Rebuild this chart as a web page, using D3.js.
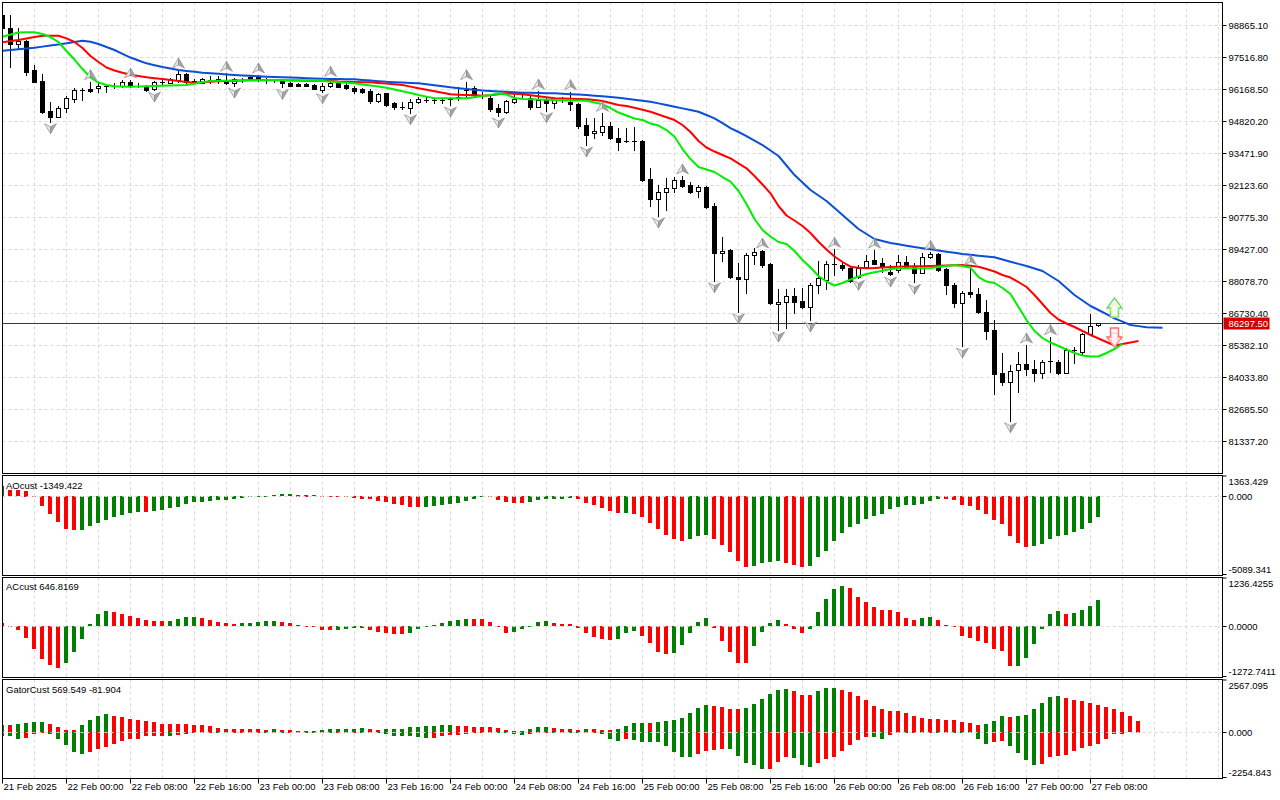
<!DOCTYPE html>
<html>
<head>
<meta charset="utf-8">
<script src="https://cdn.jsdelivr.net/npm/d3@7"></script>
<style>
  body { margin: 0; background: #fff; }
  svg text { font-family: "Liberation Sans", Arial, sans-serif; font-size: 9.5px; fill: #000; }
</style>
</head>
<body>
<svg id="chart" width="1280" height="800"></svg>
<script>
// ---- data (H1 bars, 21 Feb 16:00 .. 27 Feb 09:00) ----
var timeLabels = ["21 Feb 2025", "22 Feb 00:00", "22 Feb 08:00", "22 Feb 16:00", "23 Feb 00:00",
  "23 Feb 08:00", "23 Feb 16:00", "24 Feb 00:00", "24 Feb 08:00", "24 Feb 16:00", "25 Feb 00:00",
  "25 Feb 08:00", "25 Feb 16:00", "26 Feb 00:00", "26 Feb 08:00", "26 Feb 16:00", "27 Feb 00:00", "27 Feb 08:00"]
var barsPerLabel = 8

var priceTicks = [98865.10, 97516.80, 96168.50, 94820.20, 93471.90, 92123.60, 90775.30,
  89427.00, 88078.70, 86730.40, 85382.10, 84033.80, 82685.50, 81337.20]
var lastPrice = 86297.50

var open = [99285,98737,98051,98202,96968,96504,95241,95000,95354,95746, 96125,96167,96197,96290,96300,96306,96475,96306,96239,96155,
  96475,96433,96547,96799,96504,96433,96547,96589,96547,96408, 96547,96660,96686,96547,96550,96517,96433,96378,96378,96336,
  96125,96294,96408,96336,96222,96155,96083,95674,95986,95565, 95422,95354,95607,95700,95704,95700,95733,95830,96125,96197,
  95915,95801,95354,95211,95632,95986,95776,95422,95704,95565, 95776,95632,95535,94651,94301,94368,94609,94090,93989,93970,
  93977,92376,91520,91815,91984,92334,92123,91870,92051,91238, 89245,89384,88234,88150,89174,89342,88795,87109,87181,87447,
  87248,86996,87910,88121,88780,88753,88613,88260,88656,88963, 88849,88470,88542,88891,88681,88428,89102,89216,88571,87910,
  87139,87627,87531,86760,86014,84190,83811,84329,84569,84358, 84190,84679,84679,84215,85150,85100,85846,86212]
var high = [99330,99285,98737,98232,97179,96799,95632,95451,95872,96197, 96197,96475,96475,96336,96408,96547,96547,96408,96336,96504,
  96547,96643,96968,96829,96589,96631,96715,96728,96829,96618, 96618,96715,96757,96618,96589,96547,96462,96408,96408,96378,
  96408,96618,96475,96408,96294,96222,96155,96012,96012,95632, 95632,95733,95843,95843,95776,95776,95843,96264,96475,96294,
  96054,95872,95535,95704,95986,96054,95872,96083,95843,95776, 95843,96054,95590,94933,94933,95144,94790,94512,94512,94579,
  94019,92826,92123,92405,92447,92502,92262,92123,92080,91352, 89945,89414,88849,89271,89456,89384,88849,87729,87741,87796,
  87770,87981,88934,88921,89414,88824,88681,88753,89174,89384, 89035,88753,89174,89144,88824,89245,89287,89245,88613,88007,
  87670,88681,87770,87278,86435,85058,84540,85087,85382,84750, 84750,85732,84750,85243,85310,85875,86675,86310]
var low = [98700,97094,97895,96757,96460,95156,94790,94975,95186,95607, 95704,96054,96028,96054,96197,96264,96264,96239,96096,96125,
  96336,96408,96475,96408,96408,96408,96408,96408,96378,96294, 96475,96547,96517,96408,96475,96239,96294,96294,96280,96150,
  96054,96264,96239,96155,96012,96012,95590,95607,95451,95325, 95325,95169,95565,95632,95590,95565,95493,95704,95776,95843,
  95776,95253,95030,95169,95565,95843,95312,95410,95253,95354, 95632,95283,94512,93808,94090,94229,94048,93597,93940,93597,
  92304,91238,90817,91070,91841,92051,91773,91630,91167,88091, 88934,88192,86785,87560,88795,88681,87109,86014,86086,86743,
  86928,86435,87560,87729,88331,88542,88049,88192,88613,88780, 88470,88331,88470,88613,88024,88403,89035,88512,87531,86996,
  85340,87392,86717,85622,83318,83697,82193,83415,84118,83878, 83979,84257,84160,84190,84611,84961,85803,86180]
var close = [98737,98051,98202,96896,96475,95211,95000,95354,95776,96125, 96140,96096,96294,96300,96290,96475,96306,96300,96125,96475,
  96408,96576,96799,96475,96490,96576,96550,96547,96433,96576, 96560,96589,96547,96540,96547,96408,96306,96306,96306,96155,
  96294,96433,96264,96197,96096,96054,95662,95957,95493,95396, 95354,95632,95733,95704,95700,95704,95740,95843,96140,95915,
  95910,95312,95211,95662,95733,95990,95422,95704,95590,95704, 95770,95523,94609,94229,94398,94609,94090,93922,93947,93977,
  92334,91520,91841,91984,92334,92093,91841,92026,91209,89245, 89330,88234,88150,89174,89313,88753,87139,87206,87447,87206,
  86996,87910,88192,88795,88795,88613,88091,88613,88934,88795, 88681,88373,88866,88681,88403,89077,89216,88542,87910,87139,
  87585,87531,86760,85985,84160,83811,84299,84569,84358,84190, 84679,84690,84215,85171,85160,85846,86183,86297.5]

// Alligator (already shifted forward: jaw 8, teeth 5, lips 3 bars)
var jaw = [97781,97813,97844,97876,97907,97954,98000,98047,98093,98148, 98202,98160,98063,97937,97811,97652,97494,97372,97250,97172,
  97094,97031,96968,96930,96892,96854,96830,96806,96781,96757, 96739,96722,96704,96686,96674,96662,96650,96638,96625,96613,
  96601,96589,96585,96580,96576,96551,96526,96500,96475,96458, 96442,96425,96408,96366,96324,96281,96239,96205,96172,96138,
  96104,96086,96067,96049,96030,96012,96006,95999,95993,95986, 95968,95951,95933,95915,95887,95858,95830,95801,95759,95717,
  95674,95632,95563,95493,95423,95352,95282,95211,95072,94933, 94729,94524,94356,94187,93998,93808,93577,93345,92945,92544,
  92228,91912,91681,91449,91154,90859,90564,90269,90059,89848, 89764,89679,89623,89567,89511,89463,89414,89365,89315,89266,
  89216,89181,89147,89112,89077,88984,88891,88801,88710,88605, 88500,88290,88079,87784,87489,87257,87025,86857,86682,86507,
  86366,86225,86177,86128,86120,86111]
var teeth = [98135,98190,98232,98295,98358,98413,98413,98413,98303,98148, 97895,97558,97305,97073,96947,96850,96770,96715,96660,96622,
  96589,96547,96504,96467,96433,96450,96471,96492,96504,96513, 96526,96534,96542,96547,96542,96534,96530,96526,96521,96513,
  96504,96504,96483,96471,96462,96454,96450,96420,96395,96365, 96336,96269,96197,96134,96071,96007,95944,95931,95915,95902,
  95889,95906,95944,95986,95965,95944,95902,95860,95818,95776, 95767,95755,95746,95733,95704,95662,95578,95493,95451,95380,
  95295,95211,95093,94979,94861,94651,94356,93977,93703,93534, 93387,93248,93037,92826,92502,92144,91773,91238,90838,90627,
  90396,90101,89734,89406,89111,88879,88681,88639,88618,88626, 88643,88664,88681,88689,88698,88702,88710,88719,88727,88740,
  88753,88719,88681,88584,88479,88331,88226,88036,87826,87489, 87109,86730,86456,86288,86140,85972,85803,85656,85509,85353,
  85424,85487,85551]
var lips = [98371,98464,98548,98556,98556,98485,98358,98148,97768,97410, 97010,96652,96441,96336,96285,96273,96264,96273,96281,96294,
  96302,96315,96323,96336,96391,96450,96504,96513,96521,96526, 96534,96538,96542,96547,96547,96542,96538,96534,96526,96517,
  96504,96483,96454,96429,96408,96361,96315,96269,96222,96151, 96075,95999,95915,95847,95780,95776,95776,95776,95776,95822,
  95873,95915,95978,95936,95788,95746,95733,95725,95712,95704, 95696,95687,95679,95674,95599,95523,95367,95177,95051,94925,
  94861,94714,94630,94440,94158,93640,93218,92881,92776,92671, 92460,92262,91870,91322,90691,90227,89953,89722,89637,89342,
  88963,88647,88289,88057,87889,87994,88142,88268,88373,88445, 88508,88584,88614,88614,88614,88614,88626,88668,88710,88753,
  88710,88639,88247,88057,87994,87784,87531,86983,86435,85972, 85677,85487,85340,85193,85045,84940,84898,84898,85045,85214,
  85424]

var fractalUp = [11, 16, 22, 28, 32, 41, 58, 67, 71, 75, 85, 95, 104, 109, 116, 121, 128, 131]
var fractalDown = [6, 19, 29, 35, 40, 51, 56, 62, 68, 73, 82, 89, 92, 97, 101, 107, 111, 114, 120, 126]
var signalArrows = [{ bar: 139, price: 86562, dir: "up" }, { bar: 139, price: 85298, dir: "down" }]

var aoValues = [700,420,400,380,10,-637,-1165,-1692,-2129,-2239, -2225,-1953,-1734,-1580,-1361,-1251,-1097,-1032,-1075,-988,
  -922,-812,-702,-549,-417,-373,-307,-290,-263,-219, -154,-90,-30,5,65,131,140,125,105,65,
  20,5,-20,-90,-100,-175,-220,-307,-417,-549, -615,-702,-715,-700,-637,-593,-527,-439,-307,-220,
  -44,-88,-263,-395,-439,-450,-373,-263,-176,-170, -165,-160,-219,-439,-593,-768,-966,-1097,-1090,-1185,
  -1361,-1756,-2173,-2568,-2832,-2963,-2832,-2612,-2568,-2832, -3226,-3621,-4214,-4610,-4543,-4389,-4324,-4258,-4368,-4478,
  -4610,-4543,-3995,-3556,-2941,-2414,-2019,-1844,-1514,-1295, -1185,-878,-702,-593,-570,-527,-307,-176,-186,-263,
  -593,-659,-922,-1185,-1580,-1844,-2612,-3073,-3292,-3280, -3160,-2832,-2612,-2546,-2371,-2129,-1756,-1349.422]
var acValues = [85,-15,-101,-296,-583,-837,-989,-1056,-930,-651, -330,51,304,380,346,304,253,194,152,127,
  125,130,177,228,232,211,152,93,68,51, 76,80,101,127,130,101,68,17,-10,-25,
  -101,-105,-95,-68,-59,-42,-101,-144,-169,-194, -198,-169,-85,-25,17,68,127,152,177,175,
  173,101,-25,-169,-144,-85,8,101,127,68, 51,48,-42,-186,-270,-321,-346,-321,-169,-118,
  -245,-439,-651,-718,-693,-473,-169,101,203,-59, -372,-651,-921,-930,-499,-144,76,152,51,-85,
  -169,-68,355,684,938,1014,963,735,608,482, 406,400,363,203,152,203,228,152,25,-30,
  -245,-296,-380,-422,-583,-634,-1005,-1000,-803,-448, -68,304,380,304,330,406,507,646.8169]
var gatorUpper = [375,365,422,425,487,490,422,260,130,97, 375,617,812,909,812,747,666,617,536,503,
  422,420,418,415,373,341,325,211,178,175, 172,170,162,130,135,128,97,65,63,50,
  130,132,135,137,140,195,162,130,135,137, 178,243,245,292,325,373,375,325,322,276,
  274,260,211,114,81,79,178,243,276,195, 162,160,114,162,160,114,112,162,309,455,
  460,450,503,552,601,698,942,1185,1332,1283, 1234,1137,1135,1185,1380,1624,1868,2062,2111,2014,
  1819,1815,2014,2160,2165,2062,1965,1770,1575,1283, 1137,1039,1035,942,796,698,650,648,601,599,
  503,455,357,406,552,796,747,800,845,1137, 1429,1721,1770,1673,1575,1527,1429,1332,1234,1137,
  991,796,569.549]
var gatorLower = [-195,-200,-340,-307,-113,-20,-113,-325,-649,-990, -1088,-990,-812,-715,-601,-439,-357,-330,-211,-205,
  -195,-200,-162,-113,-65,-30,-20,-40,-60,-50, -40,-30,-25,-40,-30,-50,-40,-20,-40,-60,
  -45,-60,-45,-60,-40,-60,-40,-60,-110,-190, -200,-210,-250,-290,-285,-200,-150,-145,-100,-60,
  -40,-30,-50,-65,-110,-140,-110,-60,-30,-35, -25,-30,-65,-20,-15,-114,-357,-455,-357,-406,
  -503,-505,-510,-698,-990,-1234,-1240,-1088,-942,-893, -844,-850,-1185,-1526,-1624,-1819,-1815,-1478,-1234,-1283,
  -1624,-1721,-1526,-1332,-1234,-942,-650,-406,-260,-262, -325,-162,-30,-35,-15,-65,-20,-62,-15,-60,
  -62,-65,-325,-601,-503,-455,-698,-1039,-1380,-1624, -1575,-1234,-1185,-1137,-942,-796,-698,-601,-357,-120,
  -81.904]

var aoTicks = [1363.429, 0, -5089.341], aoTickText = ["1363.429", "0.000", "-5089.341"]
var acTicks = [1236.4255, 0, -1272.7411], acTickText = ["1236.4255", "0.0000", "-1272.7411"]
var gatorTicks = [2567.095, 0, -2254.843], gatorTickText = ["2567.095", "0.000", "-2254.843"]

// ---- layout ----
var plotLeft = 2.5, plotRight = 1222.5
var panels = {
  main:  { top: 2.5,   bottom: 473.5 },
  ao:    { top: 475.5, bottom: 575.5 },
  ac:    { top: 577.5, bottom: 677.5 },
  gator: { top: 679.5, bottom: 778.5 }
}
var GREEN = "#008000", RED = "#ff0000", GRID = "#d9d9d9"

var svg = d3.select("#chart")

// scales
var x = d3.scaleLinear().domain([0, 152.5]).range([2, 1222])
var yMain = d3.scaleLinear().domain([81337.20, 98865.10]).range([441, 25])
var yAO = d3.scaleLinear().domain([-5089.341, 1363.429]).range([574.5, 475.5])
var yAC = d3.scaleLinear().domain([-1272.7411, 1236.4255]).range([676.5, 577])
var yGator = d3.scaleLinear().domain([-2254.843, 2567.095]).range([778.5, 679.5])

function px(k) { return Math.round(x(k)) }

// clip paths per panel
var defs = svg.append("defs")
Object.keys(panels).forEach(function (name) {
  var p = panels[name]
  defs.append("clipPath").attr("id", "clip-" + name)
    .append("rect").attr("x", plotLeft + 0.5).attr("y", p.top + 0.5)
    .attr("width", plotRight - plotLeft - 1).attr("height", p.bottom - p.top - 1)
})

function panelGroup(name) {
  return svg.append("g").attr("clip-path", "url(#clip-" + name + ")")
}

// vertical grid in every panel (every 4 bars)
var gridBars = d3.range(4, 153, 4)
Object.keys(panels).forEach(function (name) {
  var p = panels[name]
  panelGroup(name).selectAll("line").data(gridBars).enter().append("line")
    .attr("x1", function (k) { return px(k) + 0.5 }).attr("x2", function (k) { return px(k) + 0.5 })
    .attr("y1", p.top).attr("y2", p.bottom)
    .attr("stroke", GRID).attr("stroke-dasharray", "3,3")
})

// ---------------- main panel ----------------
var gMain = panelGroup("main")

gMain.selectAll("line.hgrid").data(priceTicks).enter().append("line")
  .attr("class", "hgrid")
  .attr("x1", plotLeft).attr("x2", plotRight)
  .attr("y1", function (d) { return Math.round(yMain(d)) + 0.5 })
  .attr("y2", function (d) { return Math.round(yMain(d)) + 0.5 })
  .attr("stroke", GRID).attr("stroke-dasharray", "3,3")

// last price line
gMain.append("line")
  .attr("x1", plotLeft).attr("x2", plotRight)
  .attr("y1", Math.round(yMain(lastPrice)) + 0.5).attr("y2", Math.round(yMain(lastPrice)) + 0.5)
  .attr("stroke", "#a01010").attr("stroke-width", 1)

// candles
var candles = gMain.selectAll("g.candle").data(d3.range(open.length)).enter()
  .append("g").attr("class", "candle")

candles.append("line")
  .attr("x1", function (k) { return px(k) + 0.5 }).attr("x2", function (k) { return px(k) + 0.5 })
  .attr("y1", function (k) { return Math.round(yMain(high[k])) })
  .attr("y2", function (k) { return Math.round(yMain(low[k])) + 1 })
  .attr("stroke", "#000")

candles.each(function (k) {
  var g = d3.select(this)
  var top = Math.round(yMain(Math.max(open[k], close[k])))
  var bot = Math.round(yMain(Math.min(open[k], close[k])))
  var cx = px(k)
  if (bot - top < 2) {
    g.append("line").attr("x1", cx - 2).attr("x2", cx + 3)
      .attr("y1", top + 0.5).attr("y2", top + 0.5).attr("stroke", "#000")
  } else if (close[k] >= open[k]) {
    g.append("rect").attr("x", cx - 1.5).attr("y", top + 0.5)
      .attr("width", 4).attr("height", bot - top)
      .attr("fill", "#fff").attr("stroke", "#000")
  } else {
    g.append("rect").attr("x", cx - 2).attr("y", top)
      .attr("width", 5).attr("height", bot - top + 1)
      .attr("fill", "#000")
  }
})

// alligator lines
function maLine(values, color) {
  var line = d3.line()
    .x(function (v, k) { return x(k) + 0.5 })
    .y(function (v) { return yMain(v) })
  gMain.append("path").datum(values)
    .attr("d", line).attr("fill", "none")
    .attr("stroke", color).attr("stroke-width", 2).attr("stroke-linejoin", "round")
}
maLine(jaw, "#0a4fd4")
maLine(teeth, "#ff0000")
maLine(lips, "#00ee00")

// fractal arrows
function fractal(k, up) {
  var cx = px(k) + 0.5
  var cy = up ? yMain(high[k]) - 7 : yMain(low[k]) + 7
  var s = up ? 1 : -1
  var g = gMain.append("g").attr("transform", "translate(" + cx + "," + cy + ") scale(1," + s + ")")
  g.append("path").attr("d", "M0,-5 L-6,5 L0,2 Z")
    .attr("fill", "#e6e6e6").attr("stroke", "#8c8c8c").attr("stroke-width", 0.7)
  g.append("path").attr("d", "M0,-5 L6,5 L0,2 Z")
    .attr("fill", "#a4a4a4").attr("stroke", "#8c8c8c").attr("stroke-width", 0.7)
}
fractalUp.forEach(function (k) { fractal(k, true) })
fractalDown.forEach(function (k) { fractal(k, false) })

// signal arrows
signalArrows.forEach(function (a) {
  var cx = px(a.bar) + 0.5
  var yy = yMain(a.price)
  var d = a.dir === "up"
    ? "M-4,0 L4,0 L4,-9 L7.5,-9 L0,-19 L-7.5,-9 L-4,-9 Z"
    : "M-4,-19 L4,-19 L4,-10 L7.5,-10 L0,0 L-7.5,-10 L-4,-10 Z"
  var g = svg.append("g").attr("transform", "translate(" + cx + "," + yy + ")")
  g.append("path").attr("d", d)
    .attr("fill", a.dir === "up" ? "#f4fff0" : "#fff4f4")
    .attr("stroke", a.dir === "up" ? "#6fd86f" : "#ff6a6a").attr("stroke-width", 1.4)
  g.append("path").attr("d", d).attr("transform", "scale(0.72)")
    .attr("fill", "none")
    .attr("stroke", a.dir === "up" ? "#d4ef9a" : "#ffc0c0").attr("stroke-width", 1)
})

// ---------------- histograms ----------------
function histogram(name, values, yScale, colorFn) {
  var g = panelGroup(name)
  g.selectAll("rect").data(values).enter().append("rect")
    .attr("x", function (v, k) { return px(k) - 2 })
    .attr("width", 4)
    .attr("y", function (v) { return Math.round(Math.min(yScale(v), yScale(0))) })
    .attr("height", function (v) { return Math.max(1, Math.round(Math.abs(yScale(v) - yScale(0)))) })
    .attr("fill", function (v, k) { return colorFn(values, k) })
  return g
}
function risingGreen(first) {
  return function (vals, k) {
    if (k === 0) return first
    return vals[k] > vals[k - 1] ? GREEN : RED
  }
}
function fallingGreen(first) {
  return function (vals, k) {
    if (k === 0) return first
    return vals[k] < vals[k - 1] ? GREEN : RED
  }
}
function zeroLine(name, yScale) {
  var yy = Math.round(yScale(0)) + 0.5
  panelGroup(name).append("line")
    .attr("x1", plotLeft).attr("x2", plotRight).attr("y1", yy).attr("y2", yy)
    .attr("stroke", GRID).attr("stroke-dasharray", "3,3")
}

histogram("ao", aoValues, yAO, risingGreen(GREEN))
zeroLine("ao", yAO)
histogram("ac", acValues, yAC, risingGreen(RED))
zeroLine("ac", yAC)
histogram("gator", gatorUpper, yGator, risingGreen(GREEN))
histogram("gator", gatorLower, yGator, fallingGreen(GREEN))
zeroLine("gator", yGator)

// ---------------- frames & axes ----------------
Object.keys(panels).forEach(function (name) {
  var p = panels[name]
  svg.append("rect").attr("x", plotLeft).attr("y", p.top)
    .attr("width", plotRight - plotLeft).attr("height", p.bottom - p.top)
    .attr("fill", "none").attr("stroke", "#000")
})

// price axis
var axisX = plotRight
svg.selectAll("g.ptick").data(priceTicks).enter().append("g").attr("class", "ptick")
  .each(function (d) {
    var yy = Math.round(yMain(d)) + 0.5
    var g = d3.select(this)
    g.append("line").attr("x1", axisX).attr("x2", axisX + 4).attr("y1", yy).attr("y2", yy).attr("stroke", "#000")
    g.append("text").attr("x", axisX + 6).attr("y", yy + 3.5).text(d.toFixed(2))
  })

// last price box
var lpY = Math.round(yMain(lastPrice)) + 0.5
svg.append("rect").attr("x", axisX + 1).attr("y", lpY - 6).attr("width", 46).attr("height", 12).attr("fill", "#d40000")
svg.append("text").attr("x", axisX + 6).attr("y", lpY + 3.5).style("fill", "#fff").text(lastPrice.toFixed(2))

// sub-window scales
function subAxis(name, ticks, labels, yScale) {
  var p = panels[name]
  ticks.forEach(function (t, i) {
    var yy, ty
    if (i === 0) { yy = p.top + 0.5; ty = yy + 8.5 }
    else if (i === ticks.length - 1) { yy = p.bottom - 1; ty = yy - 2 }
    else { yy = Math.round(yScale(t)) + 0.5; ty = yy + 3.5 }
    svg.append("line").attr("x1", axisX).attr("x2", axisX + 4).attr("y1", yy).attr("y2", yy).attr("stroke", "#000")
    svg.append("text").attr("x", axisX + 6).attr("y", ty).text(labels[i])
  })
}
subAxis("ao", aoTicks, aoTickText, yAO)
subAxis("ac", acTicks, acTickText, yAC)
subAxis("gator", gatorTicks, gatorTickText, yGator)

// indicator captions
svg.append("text").attr("x", 6).attr("y", 488.5).text("AOcust " + aoValues[aoValues.length - 1].toFixed(3))
svg.append("text").attr("x", 6).attr("y", 590).text("ACcust " + acValues[acValues.length - 1].toFixed(4))
svg.append("text").attr("x", 6).attr("y", 692.5)
  .text("GatorCust " + gatorUpper[gatorUpper.length - 1].toFixed(3) + " " + gatorLower[gatorLower.length - 1].toFixed(3))

// time axis
var timeAxis = svg.append("g")
timeLabels.forEach(function (label, i) {
  var xx = px(i * barsPerLabel) + 0.5
  timeAxis.append("line").attr("x1", xx).attr("x2", xx)
    .attr("y1", panels.gator.bottom).attr("y2", panels.gator.bottom + 5).attr("stroke", "#000")
  timeAxis.append("text").attr("x", xx + 1).attr("y", 790).text(label)
})
</script>
</body>
</html>
